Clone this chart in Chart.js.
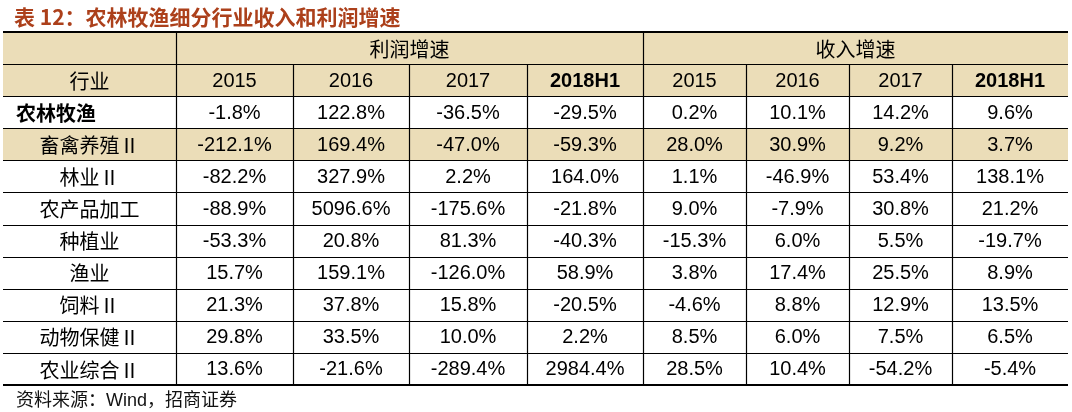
<!DOCTYPE html>
<html>
<head>
<meta charset="utf-8">
<script src="https://cdn.jsdelivr.net/npm/chart.js@4/dist/chart.umd.min.js"></script>
<style>
  html, body { margin: 0; padding: 0; background: #fff; }
  #wrap { width: 1072px; height: 412px; position: relative; }
</style>
</head>
<body>
<div id="wrap"><canvas id="tabla"></canvas></div>
<script>
const d = document;

//Datos
const titulo = "表 12：农林牧渔细分行业收入和利润增速";
const fuente = "资料来源：Wind，招商证券";
const colIndustria = "行业";
const grupos = ["利润增速", "收入增速"];
const periodos = ["2015", "2016", "2017", "2018H1"];
const industrias = ["农林牧渔", "畜禽养殖Ⅱ", "林业Ⅱ", "农产品加工", "种植业", "渔业", "饲料Ⅱ", "动物保健Ⅱ", "农业综合Ⅱ"];

const beneficio2015 = [-1.8, -212.1, -82.2, -88.9, -53.3, 15.7, 21.3, 29.8, 13.6];
const beneficio2016 = [122.8, 169.4, 327.9, 5096.6, 20.8, 159.1, 37.8, 33.5, -21.6];
const beneficio2017 = [-36.5, -47.0, 2.2, -175.6, 81.3, -126.0, 15.8, 10.0, -289.4];
const beneficio2018H1 = [-29.5, -59.3, 164.0, -21.8, -40.3, 58.9, -20.5, 2.2, 2984.4];
const ingreso2015 = [0.2, 28.0, 1.1, 9.0, -15.3, 3.8, -4.6, 8.5, 28.5];
const ingreso2016 = [10.1, 30.9, -46.9, -7.9, 6.0, 17.4, 8.8, 6.0, 10.4];
const ingreso2017 = [14.2, 9.2, 53.4, 30.8, 5.5, 25.5, 12.9, 7.5, -54.2];
const ingreso2018H1 = [9.6, 3.7, 138.1, 21.2, -19.7, 8.9, 13.5, 6.5, -5.4];

const columnas = [beneficio2015, beneficio2016, beneficio2017, beneficio2018H1,
  ingreso2015, ingreso2016, ingreso2017, ingreso2018H1];

//Estilos
const anchos = [173, 117, 116, 118, 116, 103, 103, 103, 116];
const beige = "#EBDDB8";
const filasCabecera = 2;
const filaResaltada = 1;
const fNum = '20px "Liberation Sans", Arial, sans-serif';
const fNumBold = 'bold 20px "Liberation Sans", Arial, sans-serif';
const fCJK = '20px "Noto Sans CJK SC", serif';

//Bordes de columnas en unidades de la escala
const bordes = [0];
anchos.forEach(w => bordes.push(bordes[bordes.length - 1] + w));
const totalFilas = filasCabecera + industrias.length;

const datasets = columnas.map((col, i) => ({
  label: (i < 4 ? grupos[0] : grupos[1]) + " " + periodos[i % 4],
  data: col.map((v, j) => ({ x: (bordes[i + 1] + bordes[i + 2]) / 2, y: filasCabecera + j + 0.5, v })),
  pointRadius: 0,
  pointHoverRadius: 0
}));

const fmt = v => v.toFixed(1) + "%";

const pluginTabla = {
  id: "tabla",
  beforeDatasetsDraw(chart) {
    const { ctx, scales: { x, y } } = chart;
    const px = u => Math.round(x.getPixelForValue(u));
    const py = r => Math.round(y.getPixelForValue(r));
    const left = px(0), right = px(bordes[bordes.length - 1]);
    ctx.save();
    //Fondos
    ctx.fillStyle = beige;
    ctx.fillRect(left, py(0), right - left, py(filasCabecera) - py(0));
    const r = filasCabecera + filaResaltada;
    ctx.fillRect(left, py(r), right - left, py(r + 1) - py(r));

    //Lineas horizontales
    ctx.strokeStyle = "#000";
    for (let i = 0; i <= totalFilas; i++) {
      const grueso = i === 0 || i === totalFilas;
      ctx.lineWidth = grueso ? 2 : 1.2;
      const yy = py(i) + (grueso ? 0 : 0.5);
      ctx.beginPath();
      ctx.moveTo(left, yy);
      ctx.lineTo(right, yy);
      ctx.stroke();
    }
    //Lineas verticales
    ctx.lineWidth = 1.2;
    for (let c = 1; c < bordes.length - 1; c++) {
      const desde = (c === 1 || c === 5) ? 0 : 1;
      const xx = px(bordes[c]) + 0.5;
      ctx.beginPath();
      ctx.moveTo(xx, py(desde));
      ctx.lineTo(xx, py(totalFilas));
      ctx.stroke();
    }
    ctx.restore();
  },
  afterDatasetsDraw(chart) {
    const { ctx, scales: { x, y } } = chart;
    ctx.save();
    ctx.fillStyle = "#000";
    ctx.textAlign = "center";
    ctx.textBaseline = "middle";
    const cx = (a, b) => (x.getPixelForValue(bordes[a]) + x.getPixelForValue(bordes[b])) / 2;
    const cy = r => y.getPixelForValue(r + 0.5);

    //Cabecera
    ctx.font = fCJK;
    ctx.fillText(grupos[0], cx(1, 5), cy(0) + 1);
    ctx.fillText(grupos[1], cx(5, 9), cy(0) + 1);
    ctx.fillText(colIndustria, cx(0, 1), cy(1) + 1);
    for (let i = 0; i < 8; i++) {
      const p = periodos[i % 4];
      ctx.font = p === "2018H1" ? fNumBold : fNum;
      ctx.fillText(p, cx(i + 1, i + 2), cy(1) + 1);
    }

    //Industrias
    industrias.forEach((ind, j) => {
      if (j === 0) {
        ctx.font = 'bold 20px "Noto Sans CJK SC", sans-serif';
        ctx.textAlign = "left";
        ctx.fillText(ind, x.getPixelForValue(bordes[0]) + 13, cy(filasCabecera + j) + 1);
        ctx.textAlign = "center";
      } else {
        ctx.font = fCJK;
        ctx.fillText(ind, cx(0, 1), cy(filasCabecera + j) + 1);
      }
    });

    //Valores
    ctx.font = fNum;
    chart.data.datasets.forEach((ds, i) => {
      chart.getDatasetMeta(i).data.forEach((pt, j) => {
        ctx.fillText(fmt(ds.data[j].v), pt.x, pt.y + 1);
      });
    });

    //Titulo y fuente
    ctx.textAlign = "left";
    ctx.fillStyle = "#AC401B";
    ctx.font = 'bold 21px "Noto Sans CJK SC", sans-serif';
    ctx.fillText(titulo, 14, 17);
    ctx.fillStyle = "#111";
    ctx.font = '18px "Liberation Sans", "Noto Sans CJK SC", sans-serif';
    ctx.fillText(fuente, 16, 401);
    ctx.restore();
  }
};

new Chart(d.getElementById("tabla"), {
  type: "scatter",
  data: { datasets },
  options: {
    responsive: true,
    maintainAspectRatio: false,
    animation: false,
    events: [],
    layout: { padding: { top: 32, left: 3, right: 4, bottom: 27 } },
    plugins: { legend: { display: false }, tooltip: { enabled: false }, title: { display: false } },
    scales: {
      x: { type: "linear", min: 0, max: bordes[bordes.length - 1], display: false },
      y: { type: "linear", min: 0, max: totalFilas, reverse: true, display: false }
    }
  },
  plugins: [pluginTabla]
});
</script>
</body>
</html>
